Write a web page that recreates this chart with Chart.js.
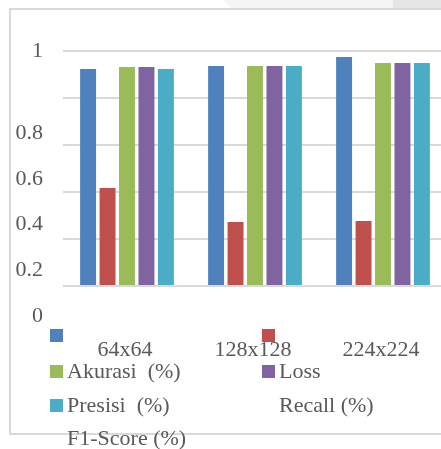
<!DOCTYPE html>
<html>
<head>
<meta charset="utf-8" />
<title>Chart</title>
<script src="https://cdn.jsdelivr.net/npm/chart.js@4.4.0/dist/chart.umd.min.js"></script>
<style>
  html, body { margin: 0; padding: 0; overflow: hidden; background: #fff; }
  #wrap { position: relative; width: 460px; height: 449px; }
  #frame { position: absolute; left: 9px; top: 8px; width: 500px; height: 423px; border: 2px solid #d9d9d9; }
  #strip1 { position: absolute; left: 222px; top: 0; width: 240px; height: 8px; background: #f5f5f5;
            clip-path: polygon(0 0, 100% 0, 100% 100%, 10px 100%); }
  #strip2 { position: absolute; left: 393px; top: 0; width: 60px; height: 8px; background: #e6e6e6; }
  canvas { position: absolute; left: 0; top: 0; }
</style>
</head>
<body>
<div id="wrap">
  <div id="strip1"></div>
  <div id="strip2"></div>
  <div id="frame"></div>
  <canvas id="chart" width="460" height="449"></canvas>
</div>
<script>
// data (names keep the wide gaps of the source)
var categories = ['64x64', '128x128', '224x224'];
var seriesNames = ['Akurasi  (%)', 'Loss', 'Presisi  (%)', 'Recall (%)', 'F1-Score (%)'];
var seriesColors = ['#4f81bd', '#c0504d', '#9bbb59', '#8064a2', '#4bacc6'];
var akurasi = [0.923, 0.936, 0.974];
var loss    = [0.417, 0.272, 0.277];
var presisi = [0.932, 0.936, 0.949];
var recall  = [0.932, 0.936, 0.949];
var f1score = [0.923, 0.936, 0.949];
var yTickLabels = ['1', '0.8', '0.6', '0.4', '0.2', '0'];
var yTickValues = [1, 0.8, 0.6, 0.4, 0.2, 0];

var seriesData = [akurasi, loss, presisi, recall, f1score];
var FONT = '22px "Liberation Serif", "Times New Roman", serif';
var TEXT = '#595959';

var labelsPlugin = {
  id: 'wordLabels',
  afterDraw: function(chart) {
    var ctx = chart.ctx;
    var ys = chart.scales.y, xs = chart.scales.x;
    ctx.save();
    ctx.font = FONT;
    ctx.fillStyle = TEXT;
    ctx.textBaseline = 'middle';

    // y axis labels (drift below their gridlines, as in the source)
    ctx.textAlign = 'right';
    for (var i = 0; i < yTickLabels.length; i++) {
      var shift = i === 0 ? 0 : 35 - (i - 1) * 1.2;
      ctx.fillText(yTickLabels[i], 43, ys.getPixelForValue(yTickValues[i]) + shift);
    }

    // category labels
    ctx.textAlign = 'center';
    for (var c = 0; c < categories.length; c++) {
      ctx.fillText(categories[c], xs.getPixelForValue(c) - 2, 350);
    }

    // legend: markers in slots 0..4, names shifted two slots later
    var colX = [50, 262];
    var rowY = [335, 371, 405, 438];
    ctx.textAlign = 'left';
    chart.data.datasets.forEach(function(ds, k) {
      var s = k, t = k + 2;
      ctx.fillStyle = ds.backgroundColor;
      ctx.fillRect(colX[s % 2], rowY[Math.floor(s / 2)] - 6, 13, 13);
      ctx.fillStyle = TEXT;
      ctx.fillText(ds.label, colX[t % 2] + 17, rowY[Math.floor(t / 2)] + 1);
    });
    ctx.restore();
  }
};

new Chart(document.getElementById('chart'), {
  type: 'bar',
  data: {
    labels: categories,
    datasets: seriesNames.map(function(name, i) {
      return {
        label: name,
        data: seriesData[i],
        backgroundColor: seriesColors[i],
        categoryPercentage: 0.76,
        barPercentage: 0.82
      };
    })
  },
  options: {
    responsive: false,
    animation: false,
    layout: { padding: { left: 63, right: 13, top: 51, bottom: 163 } },
    plugins: { legend: { display: false }, tooltip: { enabled: false } },
    scales: {
      x: { display: false },
      y: {
        min: 0, max: 1,
        ticks: { display: false, stepSize: 0.2 },
        border: { display: false },
        grid: { color: '#d9d9d9', lineWidth: 2, drawTicks: false }
      }
    }
  },
  plugins: [labelsPlugin]
});
</script>
</body>
</html>
